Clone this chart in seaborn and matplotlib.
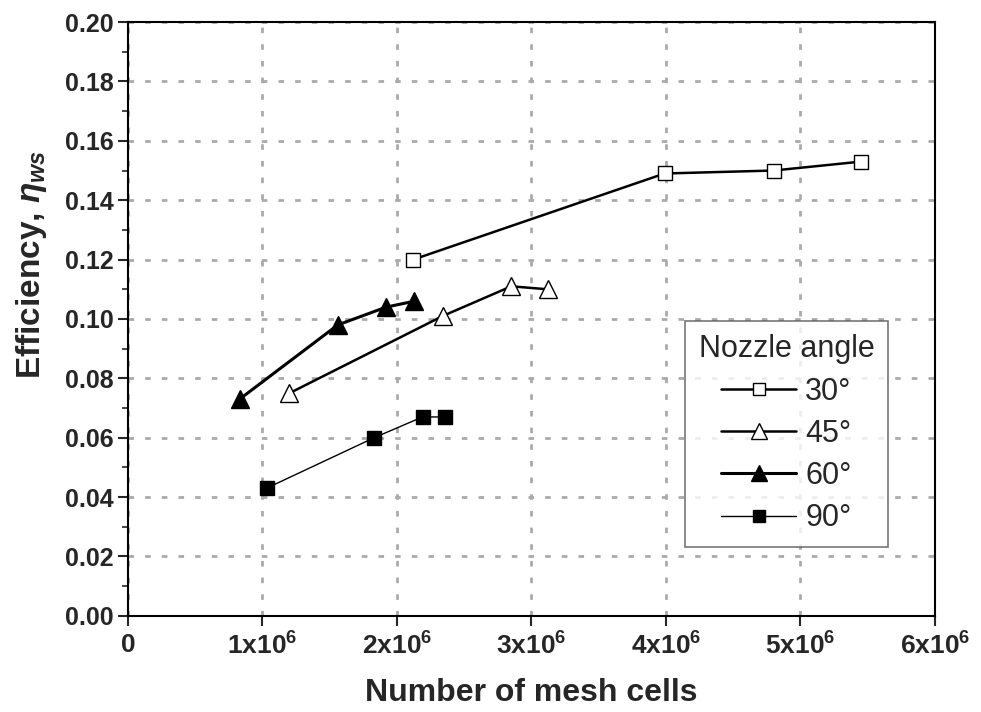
import matplotlib
matplotlib.use("Agg")
import matplotlib.pyplot as plt
import seaborn as sns
import pandas as pd
from matplotlib.ticker import FuncFormatter, MultipleLocator
from matplotlib.lines import Line2D

angles = ["30°", "45°", "60°", "90°"]
cells_30 = [2.12e6, 3.99e6, 4.80e6, 5.45e6]
eff_30 = [0.120, 0.149, 0.150, 0.153]
cells_45 = [1.20e6, 2.34e6, 2.85e6, 3.12e6]
eff_45 = [0.075, 0.101, 0.111, 0.110]
cells_60 = [0.83e6, 1.56e6, 1.92e6, 2.13e6]
eff_60 = [0.073, 0.098, 0.104, 0.106]
cells_90 = [1.03e6, 1.83e6, 2.19e6, 2.36e6]
eff_90 = [0.043, 0.060, 0.067, 0.067]

series = {
    "30°": (cells_30, eff_30),
    "45°": (cells_45, eff_45),
    "60°": (cells_60, eff_60),
    "90°": (cells_90, eff_90),
}
rows = []
for a in angles:
    xs, ys = series[a]
    for x, y in zip(xs, ys):
        rows.append({"angle": a, "cells": x, "eff": y})
df = pd.DataFrame(rows)

sns.set_style("ticks")
plt.rcParams["font.family"] = ["Liberation Sans", "DejaVu Sans"]
plt.rcParams["mathtext.fontset"] = "custom"
plt.rcParams["mathtext.rm"] = "Liberation Sans"
plt.rcParams["mathtext.it"] = "Liberation Sans:italic:bold"
plt.rcParams["mathtext.bf"] = "Liberation Sans:bold"

fig = plt.figure(figsize=(9.81, 7.12), dpi=100)
ax = fig.add_axes([0.1305, 0.135, 0.8225, 0.834])

styles = {
    "30°": dict(marker="s", mfc="white", ms=10, lw=1.8),
    "45°": dict(marker="^", mfc="white", ms=13, lw=1.8),
    "60°": dict(marker="^", mfc="black", ms=13, lw=2.2),
    "90°": dict(marker="s", mfc="black", ms=10, lw=1.0),
}
handles = []
for a in angles:
    st = styles[a]
    sub = df[df["angle"] == a]
    sns.lineplot(data=sub, x="cells", y="eff", ax=ax, sort=False,
                 color="black", lw=st["lw"], marker=st["marker"], markersize=st["ms"],
                 markerfacecolor=st["mfc"], markeredgecolor="black", markeredgewidth=1.0,
                 zorder=3, legend=False)
    handles.append(Line2D([], [], color="black", lw=st["lw"], marker=st["marker"],
                          markersize=st["ms"] * 0.85, markerfacecolor=st["mfc"],
                          markeredgecolor="black", label=a))

ax.set_xlim(0, 6e6)
ax.set_ylim(0, 0.20)
ax.xaxis.set_major_locator(MultipleLocator(1e6))
ax.yaxis.set_major_locator(MultipleLocator(0.02))
ax.yaxis.set_minor_locator(MultipleLocator(0.01))

def xfmt(v, pos):
    n = int(round(v / 1e6))
    if n == 0:
        return "0"
    return r"%dx10$^{\mathbf{6}}$" % n
ax.xaxis.set_major_formatter(FuncFormatter(xfmt))
ax.yaxis.set_major_formatter(FuncFormatter(lambda v, p: "%.2f" % v))

ax.tick_params(axis="both", which="major", direction="out", length=7, width=1.5,
               labelsize=18)
ax.tick_params(axis="x", which="major", labelsize=19, pad=5)
ax.tick_params(axis="y", which="minor", direction="out", length=4, width=1.2)
for lab in ax.get_xticklabels() + ax.get_yticklabels():
    lab.set_fontweight("bold")
for s in ax.spines.values():
    s.set_linewidth(1.5)
    s.set_color("black")

ax.grid(True, which="major", color="#aaaaaa", linestyle=(0, (2, 4)), linewidth=2.0, zorder=0)
ax.set_axisbelow(True)

ax.set_xlabel("Number of mesh cells", fontsize=23, fontweight="bold")
ax.xaxis.set_label_coords(0.5, -0.105)
ax.set_ylabel(r"Efficiency, $\mathit{\eta}_{\mathit{ws}}$", fontsize=24, fontweight="bold")
ax.yaxis.set_label_coords(-0.098, 0.592)

leg = ax.legend(handles=handles, title="Nozzle angle", loc="lower right",
                bbox_to_anchor=(0.942, 0.116), fontsize=22, title_fontsize=22,
                frameon=True, fancybox=False, edgecolor="#555555",
                handlelength=2.45, handletextpad=0.3, labelspacing=0.4,
                borderpad=0.45, borderaxespad=0.0)
leg.get_frame().set_linewidth(1.2)

fig.savefig("out.png", dpi=100)
